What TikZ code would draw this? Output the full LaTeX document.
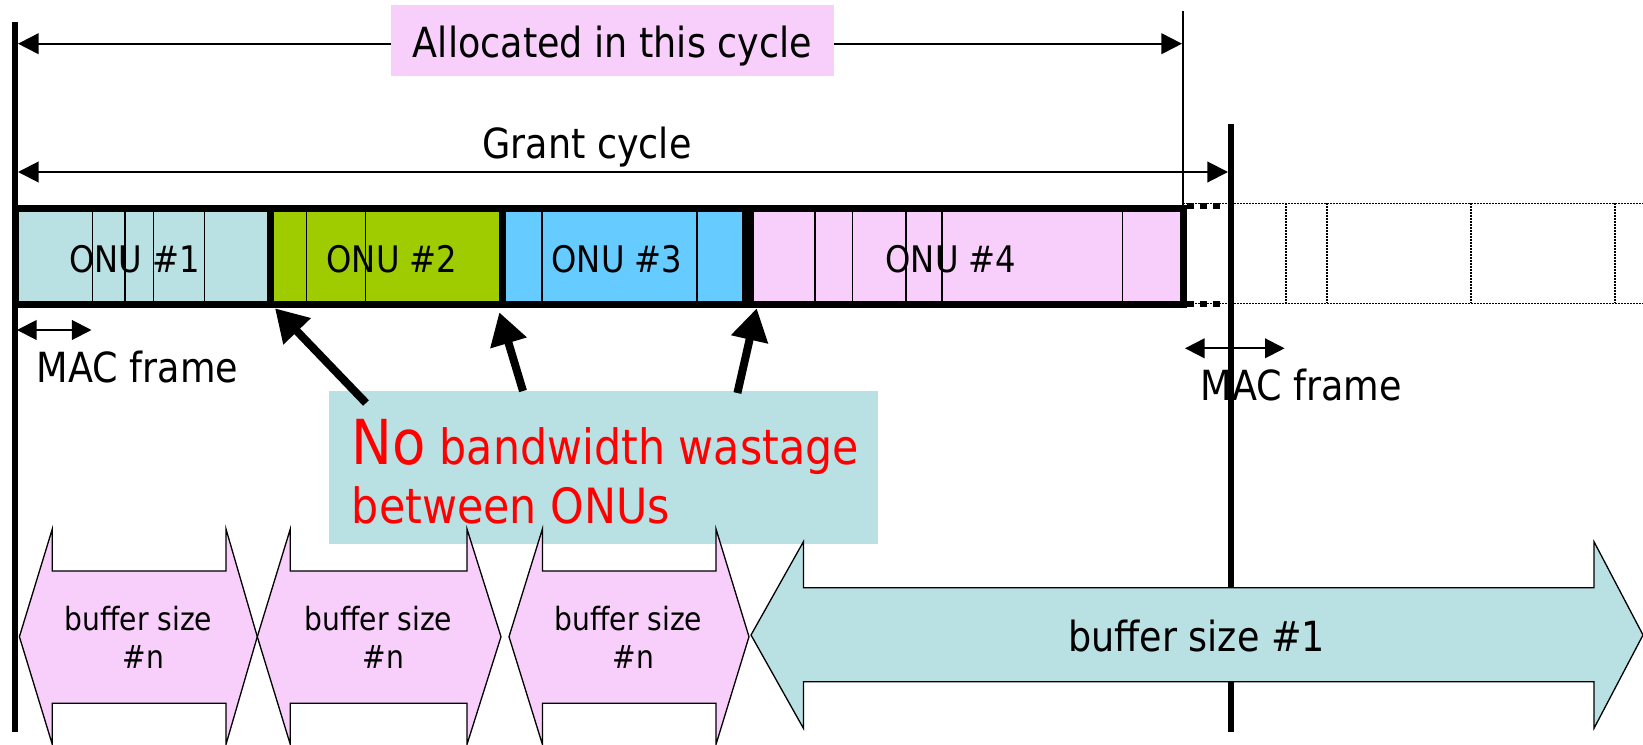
\documentclass[tikz,border=0pt]{standalone}
\usepackage{fontspec}
\setmainfont{DejaVu Sans}[FakeStretch=0.88]
\usetikzlibrary{arrows.meta}
\definecolor{pinkf}{RGB}{248,206,250}
\definecolor{tealf}{RGB}{185,224,227}
\definecolor{greenf}{RGB}{159,204,0}
\definecolor{bluef}{RGB}{102,204,255}
\newcommand\fbig{\fontsize{20.75pt}{24pt}\selectfont}
\newcommand\fonu{\fontsize{18.3pt}{22pt}\selectfont}
\newcommand\fbuf{\fontsize{16pt}{19pt}\selectfont}
\newcommand\fred{\fontsize{24.3pt}{29pt}\selectfont}
\newcommand\fno{\fontsize{31pt}{36pt}\selectfont}
\begin{document}
\begin{tikzpicture}[x=0.5pt,y=-0.5pt,
  txt/.style={inner sep=0pt,anchor=base},
  dimarrow/.style={line width=1pt,{Triangle[length=10.3pt,width=10.3pt]}-{Triangle[length=10.3pt,width=10.3pt]}},
  macarrow/.style={line width=1pt,{Triangle[length=9.8pt,width=9.8pt]}-{Triangle[length=9.8pt,width=9.8pt]}},
  bigarrow/.style={line width=4pt,-{Triangle[length=16pt,width=18pt]}},
  thinl/.style={line width=0.75pt},
  frame/.style={line width=3.5pt},
  dotl/.style={line width=0.75pt,dash pattern=on 0.75pt off 0.75pt},
  thickdot/.style={line width=3pt,dash pattern=on 3.25pt off 3.25pt},
  bufarrow/.style={draw=black,line width=0.65pt,line join=miter}]
\useasboundingbox (0,0) rectangle (1643,744);

% coordinates
\coordinate (allocL) at (18,43.7);
\coordinate (allocR) at (1182,43.7);
\coordinate (grantL) at (18,172);
\coordinate (grantR) at (1228,172);
\coordinate (mac1L) at (17,330);
\coordinate (mac1R) at (91.5,330);
\coordinate (mac2L) at (1185,348.3);
\coordinate (mac2R) at (1284.6,348.3);

% vertical reference lines
\draw[line width=3pt] (15,22) -- (15,732);
\draw[thinl] (1183,11) -- (1183,205);
\draw[line width=3pt] (1231,124) -- (1231,732);

% Allocated in this cycle
\draw[dimarrow] (allocL) -- (allocR);
\fill[pinkf] (391,5) rectangle (834,76);
\node[txt,font=\fbig] (alloc) at (612.5,57.3) {Allocated in this cycle};

% Grant cycle
\draw[dimarrow] (grantL) -- (grantR);
\node[txt,font=\fbig] (grant) at (587,158.3) {Grant cycle};

% bar fills
\fill[tealf] (15,208.5) rectangle (270,304.5);
\fill[greenf] (270,208.5) rectangle (502,304.5);
\fill[bluef] (502,208.5) rectangle (745,304.5);
\fill[pinkf] (750,208.5) rectangle (1183,304.5);
% frames inside
\foreach \x in {92.3,125,153.7,204.7,306.7,365.7,542,697,815,852.7,906,942,1122.7}
  \draw[thinl] (\x,208.5) -- (\x,304.5);
\node[txt,font=\fonu] (onu1) at (134.7,272.7) {ONU \#1};
\node[txt,font=\fonu] (onu2) at (392,272.7) {ONU \#2};
\node[txt,font=\fonu] (onu3) at (617,272.7) {ONU \#3};
\node[txt,font=\fonu] (onu4) at (951,272.7) {ONU \#4};
% ONU borders
\draw[frame] (15,208.5) rectangle (270,304.5);
\draw[frame] (270,208.5) rectangle (502,304.5);
\draw[frame] (502,208.5) rectangle (745,304.5);
\draw[frame] (750,208.5) rectangle (1183,304.5);

% dotted continuation
\draw[thickdot] (1187,206) -- (1225,206);
\draw[thickdot] (1187,303.7) -- (1225,303.7);
\draw[dotl] (1183,203.3) -- (1643,203.3);
\draw[dotl] (1183,303.3) -- (1643,303.3);
\foreach \x in {1286,1327,1471,1615}
  \draw[dotl] (\x,203.3) -- (\x,303.3);

% MAC frames
\draw[macarrow] (mac1L) -- (mac1R);
\node[txt,font=\fbig] (mac1) at (137.5,382.7) {MAC frame};
\draw[macarrow] (mac2L) -- (mac2R);
\node[txt,font=\fbig] (mac2) at (1301.4,400) {MAC frame};

% red note
\fill[tealf] (328.5,391) rectangle (877.7,544.3);
\node[inner sep=0pt,anchor=base west,font=\fred,text=red] (note1) at (351.5,464.3) {{\fno No} bandwidth wastage};
\node[inner sep=0pt,anchor=base west,font=\fred,text=red] (note2) at (351.5,523.3) {between ONUs};

% pointing arrows
\coordinate (t1) at (366,403);
\coordinate (h1) at (275,308.3);
\coordinate (t2) at (523,391);
\coordinate (h2) at (499.3,312.3);
\coordinate (t3) at (737.4,393);
\coordinate (h3) at (756.7,308.3);
\draw[bigarrow] (t1) -- (h1);
\draw[bigarrow] (t2) -- (h2);
\draw[bigarrow] (t3) -- (h3);

% buffer arrows
\draw[bufarrow,fill=pinkf] (19.4,636.7) -- (52.3,529) -- (52.3,571) -- (226,571) -- (226,529) -- (257.3,636.7) -- (226,744.4) -- (226,703.3) -- (52.3,703.3) -- (52.3,744.4) -- cycle;
\draw[bufarrow,fill=pinkf] (257.3,636.7) -- (290.3,529) -- (290.3,571) -- (467,571) -- (467,529) -- (501,636.7) -- (467,744.4) -- (467,703.3) -- (290.3,703.3) -- (290.3,744.4) -- cycle;
\draw[bufarrow,fill=pinkf] (509,636.7) -- (542.4,529) -- (542.4,571) -- (716,571) -- (716,529) -- (749,636.7) -- (716,744.4) -- (716,703.3) -- (542.4,703.3) -- (542.4,744.4) -- cycle;
\draw[bufarrow,fill=tealf] (751,635) -- (803.4,541.7) -- (803.4,587.7) -- (1594,587.7) -- (1594,541.7) -- (1643,635) -- (1594,728.3) -- (1594,681.7) -- (803.4,681.7) -- (803.4,728.3) -- cycle;
\node[txt,font=\fbuf] (bufA1) at (138.5,630) {buffer size};
\node[txt,font=\fbuf] (bufA2) at (143.5,668.3) {\#n};
\node[txt,font=\fbuf] (bufB1) at (378.5,630) {buffer size};
\node[txt,font=\fbuf] (bufB2) at (383.5,668.3) {\#n};
\node[txt,font=\fbuf] (bufC1) at (628.5,630) {buffer size};
\node[txt,font=\fbuf] (bufC2) at (633.5,668.3) {\#n};
\node[txt,font=\fbig] (bufD) at (1196.6,651.7) {buffer size \#1};
\end{tikzpicture}
\end{document}
